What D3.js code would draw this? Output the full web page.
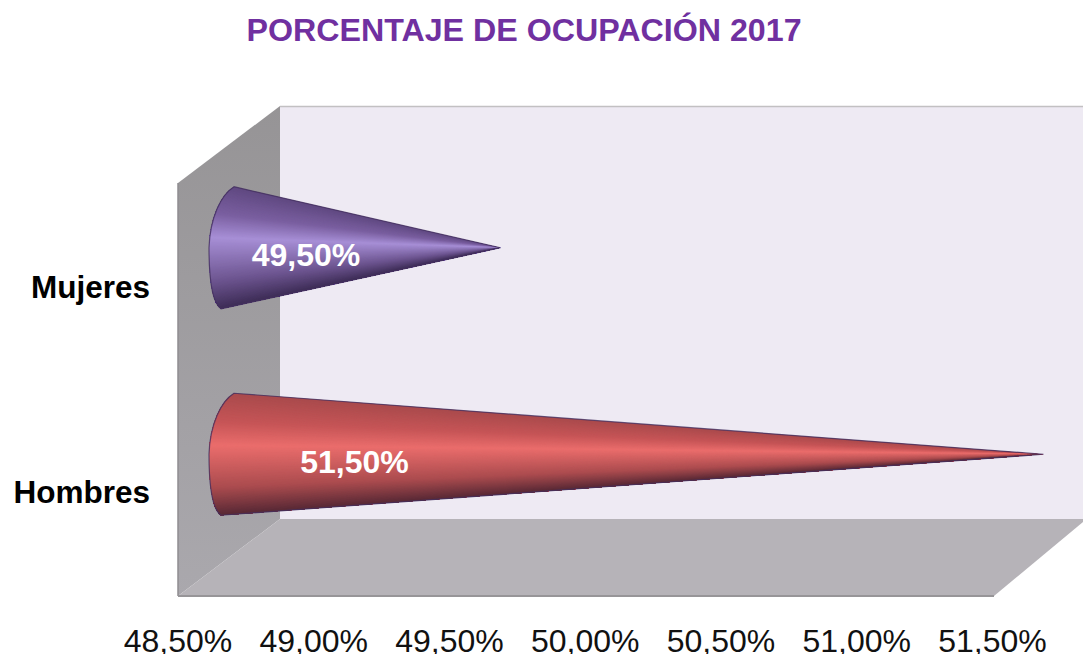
<!DOCTYPE html>
<html><head><meta charset="utf-8">
<script src="https://cdn.jsdelivr.net/npm/d3@7"></script>
<style>html,body{margin:0;padding:0;background:#fff;overflow:hidden}svg{display:block}text{font-family:"Liberation Sans",Arial,sans-serif}</style>
</head><body><svg id="c" width="1083" height="654"></svg>
<script>
const categories = ["Mujeres", "Hombres"];
const values = [49.5, 51.5];
const valueLabels = ["49,50%", "51,50%"];
const tickValues = [48.5, 49, 49.5, 50, 50.5, 51, 51.5];
const tickLabels = ["48,50%", "49,00%", "49,50%", "50,00%", "50,50%", "51,00%", "51,50%"];
const title = "PORCENTAJE DE OCUPACIÓN 2017";
const ramps = [
  ["#5f4880", "#7a5fa0", "#a78fd6", "#6d5590", "#3f2e58"],
  ["#a84a4c", "#c65557", "#ea6d6c", "#ab4c4f", "#5a2a36"]
];

const svg = d3.select("#c");
const x = d3.scaleLinear().domain([48.5, 51.5]).range([178, 992.5]);
const y = d3.scaleBand().domain(categories).range([183, 596]);
const depth = {dx: 102, dy: -77};
const x0 = x.range()[0], xEnd = 994, yTop = y.range()[0], yBot = y.range()[1];

// walls
const wallGrad = svg.append("defs").append("linearGradient").attr("id", "wall").attr("x1", 0).attr("x2", 0).attr("y1", 0).attr("y2", 1);
wallGrad.append("stop").attr("offset", 0).attr("stop-color", "#969496");
wallGrad.append("stop").attr("offset", 1).attr("stop-color", "#aaa8ad");
svg.append("rect").attr("x", x0 + depth.dx).attr("y", yTop + depth.dy).attr("width", 1083 - x0 - depth.dx).attr("height", yBot - yTop)
  .attr("fill", "#eeeaf3");
svg.append("line").attr("x1", x0 + depth.dx).attr("x2", 1083).attr("y1", yTop + depth.dy + .5).attr("y2", yTop + depth.dy + .5).attr("stroke", "#c2c0c2").attr("stroke-width", 1.5);
const poly = p => p.map(d => d.join(",")).join(" ");
svg.append("polygon").attr("fill", "url(#wall)").attr("points", poly([
  [x0, yTop], [x0 + depth.dx, yTop + depth.dy], [x0 + depth.dx, yBot + depth.dy], [x0, yBot]]));
svg.append("polygon").attr("fill", "#b6b3b8").attr("points", poly([
  [x0, yBot], [x0 + depth.dx, yBot + depth.dy], [1083, yBot + depth.dy], [1083, yBot + depth.dy + 3], [xEnd, yBot]]));
svg.append("line").attr("x1", x0).attr("x2", x0).attr("y1", yTop).attr("y2", yBot).attr("stroke", "#8f8d90").attr("stroke-width", 1.5);
svg.append("line").attr("x1", x0).attr("x2", xEnd).attr("y1", yBot).attr("y2", yBot).attr("stroke", "#979598").attr("stroke-width", 2);

// cones, shaded as a fan converging on the tip; strips overlap so no seams show
const defs = svg.select("defs");
const half = 61, bulge = 20, strips = 160;
categories.forEach((c, i) => {
  const cy = y(c) + y.bandwidth() / 2 + depth.dy / 2;
  const bx = x(tickValues[0]) + depth.dx / 2;
  const tip = [x(values[i]) + depth.dx / 2, cy];
  const top = [bx + 5, cy - half], bot = [bx - 8, cy + half];
  const outline = `M${top}C${bx - 8},${cy - half + 8} ${bx - bulge + 1},${cy - 30} ${bx - bulge},${cy}`
    + `C${bx - bulge},${cy + 28} ${bx - 17},${cy + half - 6} ${bot}L${tip}Z`;
  defs.append("clipPath").attr("id", "cone" + i).append("path").attr("d", outline);
  const color = d3.scaleLinear().domain([0, .25, .44, .78, 1]).range(ramps[i]).interpolate(d3.interpolateRgb);
  const g = svg.append("g").attr("clip-path", `url(#cone${i})`);
  const leftX = bx - bulge - 4;
  const yA = cy - half * (tip[0] - leftX) / (tip[0] - top[0]);
  const yB = cy + half * (tip[0] - leftX) / (tip[0] - bot[0]);
  const yOf = t => yA + (yB - yA) * t;
  d3.range(strips).forEach(k => {
    g.append("polygon")
      .attr("points", poly([tip, [leftX, yOf(k / strips) - 1], [leftX, yB + 2]]))
      .attr("fill", color((k + .5) / strips));
  });
  svg.append("path").attr("d", outline).attr("fill", "none").attr("stroke", "#43305f").attr("stroke-width", 1.2).attr("stroke-opacity", .8);
});

// value labels
const labelShift = [77, 125.5];
svg.selectAll(".vl").data(valueLabels).join("text").attr("class", "vl")
  .attr("x", (d, i) => x(tickValues[0]) + depth.dx / 2 + labelShift[i])
  .attr("y", (d, i) => y(categories[i]) + y.bandwidth() / 2 + depth.dy / 2 + (i ? 8 : 7))
  .attr("dy", "0.35em").attr("text-anchor", "middle").attr("fill", "#fff")
  .attr("font-weight", "bold").attr("font-size", 32).text(d => d);

// axes
svg.selectAll(".cat").data(categories).join("text").attr("class", "cat")
  .attr("x", 150).attr("y", (d, i) => y(d) + y.bandwidth() / 2 + (i ? -.5 : 1)).attr("dy", "0.35em")
  .attr("text-anchor", "end").attr("font-weight", "bold").attr("font-size", 31.5).attr("fill", "#000").text(d => d);
svg.selectAll(".tick").data(tickValues).join("text").attr("class", "tick")
  .attr("x", d => x(d)).attr("y", 652).attr("text-anchor", "middle")
  .attr("font-size", 32).attr("fill", "#111").text((d, i) => tickLabels[i]);

svg.append("text").attr("x", 524).attr("y", 41).attr("text-anchor", "middle")
  .attr("font-weight", "bold").attr("font-size", 32.2).attr("fill", "#7030a0").text(title);
</script></body></html>
